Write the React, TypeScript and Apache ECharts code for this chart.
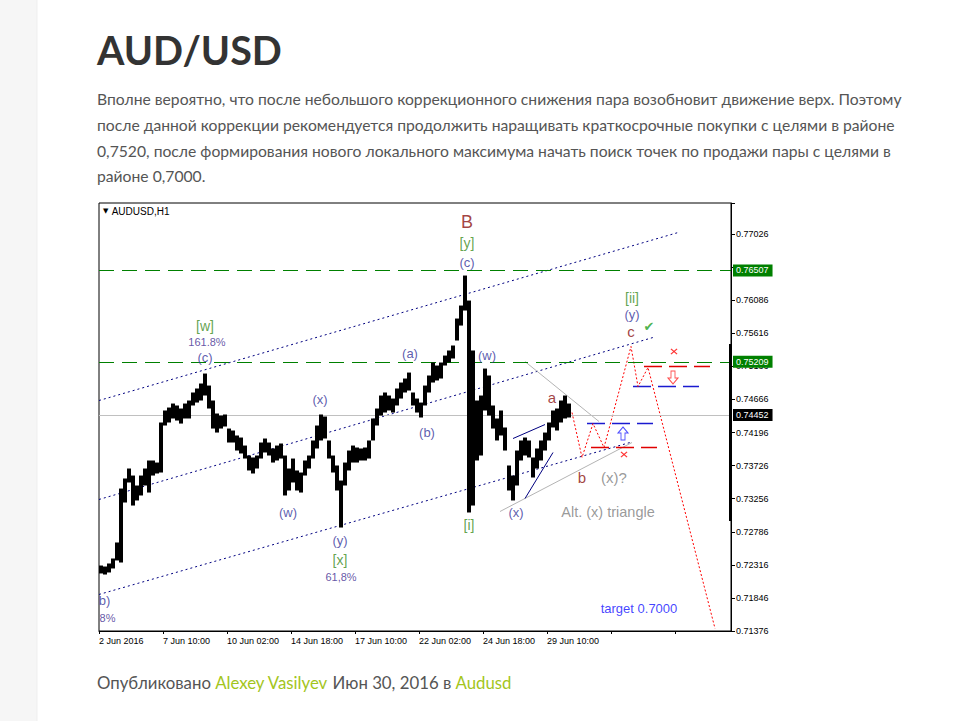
import React, { useEffect, useRef } from 'react';
import * as echarts from 'echarts';

// ---------- data ----------
// the 0.76556 tick is hidden behind the 0.76507 level box in the reference
const PRICE_TICK_LABELS = ['0.71376', '0.71846', '0.72316', '0.72786', '0.73256', '0.73726', '0.74196', '0.74666', '0.75136', '0.75616', '0.76086', '', '0.77026'];
const PRICE_BASE = 0.71376;
const PRICE_STEP = 0.00470833;
const TIME_TICK_LABELS = ['2 Jun 2016', '7 Jun 10:00', '10 Jun 02:00', '14 Jun 18:00', '17 Jun 10:00', '22 Jun 02:00', '24 Jun 18:00', '29 Jun 10:00'];
const HOURS_PER_TICK_LABEL = 64;
const HOURS_PER_SAMPLE = 4;
const TOTAL_HOURS = 632;

// AUDUSD H1, aggregated per 4 hours (high / low)
const sampleHigh = [
  0.72308, 0.72294, 0.72337, 0.72408, 0.72636, 0.73404, 0.73547, 0.73689, 0.73589, 0.73447,
  0.73589, 0.73689, 0.73803, 0.73803, 0.73774, 0.74344, 0.74515, 0.74557, 0.74614, 0.74586,
  0.74543, 0.74614, 0.74657, 0.74771, 0.74828, 0.74899, 0.75041, 0.74870, 0.74657, 0.74472,
  0.74443, 0.74458, 0.74258, 0.74230, 0.74159, 0.74130, 0.74016, 0.73874, 0.73846, 0.73874,
  0.74059, 0.74116, 0.74059, 0.73974, 0.74016, 0.74045, 0.73874, 0.73689, 0.73831, 0.73661,
  0.73632, 0.73803, 0.73874, 0.74088, 0.74301, 0.74458, 0.74429, 0.74088, 0.73874, 0.73732,
  0.73518, 0.73774, 0.73945, 0.74016, 0.73988, 0.73974, 0.73988, 0.74088, 0.74401, 0.74543,
  0.74728, 0.74771, 0.74728, 0.74685, 0.74828, 0.74913, 0.74970, 0.75055, 0.74771, 0.74685,
  0.74628, 0.74870, 0.75013, 0.75198, 0.75155, 0.75198, 0.75297, 0.75369, 0.75440, 0.75824,
  0.76009, 0.76436, 0.76080, 0.75369, 0.74657, 0.74728, 0.75112, 0.75013, 0.74586, 0.74401,
  0.74515, 0.74273, 0.73732, 0.73589, 0.73945, 0.74088, 0.74130, 0.74088, 0.73846, 0.73974,
  0.74088, 0.74201, 0.74344, 0.74515, 0.74543, 0.74657, 0.74728, 0.74614,
];
const sampleLow = [
  0.72195, 0.72180, 0.72209, 0.72266, 0.72380, 0.72351, 0.73205, 0.73490, 0.73162, 0.73234,
  0.73305, 0.73447, 0.73347, 0.73589, 0.73618, 0.73632, 0.74301, 0.74344, 0.74401, 0.74372,
  0.74329, 0.74401, 0.74401, 0.74586, 0.74628, 0.74657, 0.74728, 0.74543, 0.74258, 0.74201,
  0.74258, 0.74287, 0.74059, 0.74059, 0.73945, 0.73903, 0.73831, 0.73661, 0.73618, 0.73689,
  0.73831, 0.73917, 0.73874, 0.73774, 0.73803, 0.73831, 0.73305, 0.73376, 0.73490, 0.73376,
  0.73347, 0.73589, 0.73689, 0.73831, 0.73974, 0.74088, 0.74116, 0.73831, 0.73632, 0.73376,
  0.72849, 0.73447, 0.73661, 0.73774, 0.73774, 0.73803, 0.73803, 0.73831, 0.74088, 0.74301,
  0.74443, 0.74486, 0.74515, 0.74486, 0.74586, 0.74685, 0.74771, 0.74799, 0.74586, 0.74486,
  0.74415, 0.74586, 0.74771, 0.74913, 0.74942, 0.74970, 0.75155, 0.75198, 0.75255, 0.75511,
  0.75724, 0.75938, 0.73063, 0.73162, 0.73803, 0.73874, 0.74515, 0.74443, 0.74258, 0.74088,
  0.74159, 0.73945, 0.73376, 0.73234, 0.73447, 0.73803, 0.73874, 0.73846, 0.73561, 0.73689,
  0.73803, 0.73945, 0.74088, 0.74273, 0.74230, 0.74344, 0.74401, 0.74415,
];

// horizontal levels with price-scale boxes
const levelPrices = [0.76507, 0.75209, 0.74452];
const levelLabels = ['0.76507', '0.75209', '0.74452'];

// trend channel (hour, price)
const channelUpper = [[0, 0.74657], [579, 0.77048]];
const channelMiddle = [[0, 0.73248], [554, 0.75554]];
const channelLower = [[0, 0.71896], [531, 0.74059]];

// triangle / wedge lines
const triUpper = [[426, 0.75212], [500, 0.74358]];
const triLower = [[401, 0.73077], [533, 0.74059]];
const wedgeUpper = [[414, 0.74116], [446, 0.74315]];
const wedgeLower = [[426, 0.73262], [454, 0.73917]];

// forecast path
const forecastPath = [[473, 0.74486], [483, 0.73846], [494, 0.74329], [505, 0.73988], [532, 0.75426], [539, 0.74856], [549, 0.75127], [616, 0.71412]];

// short order levels
const buyLevels = [[[488, 0.74329], [554, 0.74329]], [[534, 0.74856], [600, 0.74856]]];
const stopLevels = [[[492, 0.73988], [558, 0.73988]], [[545, 0.75141], [611, 0.75141]]];

// markers
const upArrows = [[524, 0.74187]];
const downArrows = [[574, 0.74984]];
const crosses = [[575, 0.75354], [525, 0.73888]];

const NAVY = '#333399';
const DRED = '#8b1010';
const GRN = '#3c8c1c';
const PURP = '#3d2b8f';
const GRAY = '#808080';

const waveLabels: { t: string; x: number; p: number; c: string; s: number }[] = [
  { t: 'B', x: 368, p: 0.77205, c: DRED, s: 18 },
  { t: '[y]', x: 368, p: 0.76906, c: GRN, s: 14 },
  { t: '(c)', x: 368, p: 0.76621, c: NAVY, s: 13 },
  { t: '[w]', x: 106, p: 0.75724, c: GRN, s: 14 },
  { t: '161.8%', x: 108, p: 0.75497, c: PURP, s: 11 },
  { t: '(c)', x: 106, p: 0.75269, c: NAVY, s: 13 },
  { t: '(a)', x: 311, p: 0.75326, c: NAVY, s: 13 },
  { t: '(w)', x: 388, p: 0.75297, c: NAVY, s: 13 },
  { t: '(x)', x: 221, p: 0.74671, c: NAVY, s: 13 },
  { t: '(b)', x: 328, p: 0.74201, c: NAVY, s: 13 },
  { t: 'a', x: 453, p: 0.747, c: DRED, s: 15 },
  { t: '[ii]', x: 533, p: 0.76123, c: GRN, s: 14 },
  { t: '(y)', x: 533, p: 0.75881, c: NAVY, s: 13 },
  { t: 'c', x: 532, p: 0.75639, c: DRED, s: 15 },
  { t: '✔', x: 550, p: 0.7571, c: '#22a022', s: 13 },
  { t: 'b', x: 483, p: 0.73561, c: DRED, s: 15 },
  { t: '(x)?', x: 515, p: 0.73561, c: GRAY, s: 15 },
  { t: 'Alt. (x) triangle', x: 509, p: 0.73063, c: GRAY, s: 14.5 },
  { t: '(w)', x: 189, p: 0.73063, c: NAVY, s: 13 },
  { t: '(y)', x: 241, p: 0.72664, c: NAVY, s: 13 },
  { t: '[x]', x: 241, p: 0.7238, c: GRN, s: 14 },
  { t: '61,8%', x: 242, p: 0.72138, c: PURP, s: 11 },
  { t: '[i]', x: 370, p: 0.72878, c: GRN, s: 14 },
  { t: '(x)', x: 417, p: 0.73063, c: NAVY, s: 13 },
  { t: 'b)', x: 5.5, p: 0.7181, c: NAVY, s: 13 },
  { t: '8%', x: 8.5, p: 0.71568, c: PURP, s: 11 },
  { t: 'target 0.7000', x: 540, p: 0.71696, c: '#1010ff', s: 13 },
];

const PARAGRAPH = [
  'Вполне вероятно, что после небольшого коррекционного снижения пара возобновит движение верх. Поэтому',
  'после данной коррекции рекомендуется продолжить наращивать краткосрочные покупки с целями в районе',
  '0,7520, после формирования нового локального максимума начать поиск точек по продажи пары с целями в',
  'районе 0,7000.',
];

const U = (p: number) => (p - PRICE_BASE) / PRICE_STEP;
const FONT = 'Liberation Sans, Arial, sans-serif';

function seg(pts: number[][], lineStyle: any, z = 3) {
  return {
    type: 'line',
    data: pts.map(([x, p]) => [x, U(p)]),
    symbol: 'none',
    silent: true,
    z,
    lineStyle,
  };
}

function buildOption() {
  const bars = sampleHigh.map((h, i) => [i * HOURS_PER_SAMPLE, U(sampleLow[i]), U(h)]);
  const series: any[] = [];

  // horizontal levels with price boxes
  series.push({
    type: 'line',
    data: [],
    silent: true,
    z: 2,
    markLine: {
      silent: true,
      symbol: ['none', 'none'],
      data: levelPrices.map((p, i) => ({
        yAxis: U(p),
        lineStyle: i < 2
          ? { color: '#008000', width: 1, type: [15, 8] }
          : { color: '#c0c0c0', width: 1, type: 'solid' },
        label: {
          show: true,
          position: 'end',
          distance: 2,
          formatter: levelLabels[i],
          color: '#fff',
          backgroundColor: i < 2 ? '#008000' : '#000',
          padding: [2, 4, 1, 3],
          fontSize: 9,
          fontFamily: FONT,
        },
      })),
    },
  });

  const dotted = { color: '#000080', width: 1, type: [2, 3] };
  series.push(seg(channelUpper, dotted));
  series.push(seg(channelMiddle, dotted));
  series.push(seg(channelLower, dotted));
  series.push(seg(triUpper, { color: '#b4b4b4', width: 1 }));
  series.push(seg(triLower, { color: '#b4b4b4', width: 1 }));
  series.push(seg(wedgeUpper, { color: '#000080', width: 1 }));
  series.push(seg(wedgeLower, { color: '#000080', width: 1 }));
  buyLevels.forEach((l) => series.push(seg(l, { color: '#1a1ad0', width: 1.5, type: [18, 7] })));
  stopLevels.forEach((l) => series.push(seg(l, { color: '#e00000', width: 1.5, type: [18, 7] })));
  series.push(seg(forecastPath, { color: '#ff0000', width: 1, type: [2, 2] }));

  // price bars
  series.push({
    type: 'custom',
    z: 5,
    silent: true,
    encode: { x: 0, y: [1, 2] },
    data: bars,
    renderItem: (params: any, api: any) => {
      const x = api.value(0);
      const lo = api.value(1);
      const hi = api.value(2);
      const a = api.coord([x, hi]);
      const b = api.coord([x + HOURS_PER_SAMPLE, lo]);
      return {
        type: 'rect',
        shape: { x: a[0], y: a[1], width: b[0] - a[0], height: Math.max(1.5, b[1] - a[1]) },
        style: { fill: '#000' },
      };
    },
  });

  // markers
  series.push({
    type: 'scatter',
    z: 6,
    silent: true,
    data: [
      ...upArrows.map(([x, p]) => ({
        value: [x, U(p)],
        symbol: 'path://M5,0L10,6L7,6L7,13L3,13L3,6L0,6Z',
        symbolSize: [10, 13],
        itemStyle: { color: '#fff', borderColor: '#2020ff', borderWidth: 1 },
      })),
      ...downArrows.map(([x, p]) => ({
        value: [x, U(p)],
        symbol: 'path://M3,0L7,0L7,7L10,7L5,13L0,7L3,7Z',
        symbolSize: [10, 13],
        itemStyle: { color: '#fff', borderColor: '#ff2020', borderWidth: 1 },
      })),
      ...crosses.map(([x, p]) => ({
        value: [x, U(p)],
        symbol: 'path://M0,1L1,0L4,3L7,0L8,1L5,4L8,7L7,8L4,5L1,8L0,7L3,4Z',
        symbolSize: [7, 6],
        itemStyle: { color: '#ff0000' },
      })),
    ],
  });

  // wave labels
  series.push({
    type: 'scatter',
    z: 7,
    silent: true,
    symbolSize: 1,
    itemStyle: { color: 'rgba(0,0,0,0)' },
    data: waveLabels.map((w) => ({
      value: [w.x, U(w.p)],
      label: {
        show: true,
        position: 'inside',
        formatter: w.t,
        color: w.c,
        fontSize: w.s,
        fontFamily: w.t === '✔' ? 'DejaVu Sans' : FONT,
      },
    })),
  });

  const graphic: any[] = [
    { type: 'rect', shape: { x: 0, y: 0, width: 37, height: 721 }, style: { fill: '#f6f6f6' }, z: -10 },
    { type: 'line', shape: { x1: 37, y1: 0, x2: 37, y2: 721 }, style: { stroke: '#efefef', lineWidth: 1 }, z: -9 },
    {
      type: 'text', z: 10,
      style: { x: 97, y: 49, text: 'AUD/USD', fill: '#333333', fontSize: 39.5, fontWeight: 'bold', fontFamily: 'Lato', textVerticalAlign: 'middle', verticalAlign: 'middle' },
    },
    ...PARAGRAPH.map((t, i) => ({
      type: 'text', z: 10,
      style: { x: 97, y: [99, 125, 151, 176][i], text: t, fill: '#555555', fontSize: 15.7, fontFamily: 'Lato', textVerticalAlign: 'middle', verticalAlign: 'middle' },
    })),
    {
      type: 'text', z: 10,
      style: {
        x: 97, y: 682,
        text: '{a|Опубликовано }{b|Alexey Vasilyev}{a| Июн 30, 2016 в }{b|Audusd}',
        textVerticalAlign: 'middle', verticalAlign: 'middle',
        rich: {
          a: { fill: '#555555', color: '#555555', fontSize: 16.8, fontFamily: 'Lato' },
          b: { fill: '#a3c51c', color: '#a3c51c', fontSize: 16.8, fontFamily: 'Lato' },
        },
      },
    },
    {
      type: 'text', z: 10,
      style: {
        x: 103, y: 211,
        text: '{t|▼} {s|AUDUSD,H1}',
        textVerticalAlign: 'middle', verticalAlign: 'middle',
        rich: {
          t: { fontSize: 7, fill: '#000', color: '#000', fontFamily: 'DejaVu Sans' },
          s: { fontSize: 10, fill: '#000', color: '#000', fontFamily: FONT },
        },
      },
    },
    { type: 'rect', shape: { x: 729, y: 344, width: 3, height: 177 }, style: { fill: '#000' }, z: 100 },
  ];

  return {
    animation: false,
    backgroundColor: '#ffffff',
    textStyle: { fontFamily: FONT },
    grid: { left: 99, right: 229, top: 203, bottom: 90, show: true, borderColor: '#000', borderWidth: 1, backgroundColor: '#fff' },
    xAxis: {
      type: 'value', min: 0, max: TOTAL_HOURS, interval: HOURS_PER_TICK_LABEL,
      axisLine: { show: true, onZero: false, lineStyle: { color: '#000' } },
      axisTick: { show: true, length: 3, lineStyle: { color: '#000' } },
      splitLine: { show: false },
      axisLabel: {
        align: 'left', margin: 5, fontSize: 9, color: '#000', fontFamily: FONT,
        showMaxLabel: false,
        formatter: (v: number) => {
          const k = Math.round(v / HOURS_PER_TICK_LABEL);
          return Math.abs(v - k * HOURS_PER_TICK_LABEL) < 1e-6 && k < TIME_TICK_LABELS.length ? TIME_TICK_LABELS[k] : '';
        },
      },
    },
    yAxis: {
      type: 'value', position: 'right', min: 0, max: 12.94, interval: 1,
      axisLine: { show: true, onZero: false, lineStyle: { color: '#000' } },
      axisTick: { show: true, length: 4, lineStyle: { color: '#000' } },
      splitLine: { show: false },
      axisLabel: {
        margin: 5, fontSize: 9, color: '#000', fontFamily: FONT,
        formatter: (v: number) => {
          const k = Math.round(v);
          return Math.abs(v - k) < 1e-6 && k < PRICE_TICK_LABELS.length ? PRICE_TICK_LABELS[k] : '';
        },
      },
    },
    graphic,
    series,
  };
}

export default function App() {
  const ref = useRef<HTMLDivElement>(null);
  useEffect(() => {
    const chart = echarts.init(ref.current as HTMLDivElement, null, { renderer: 'svg' });
    chart.setOption(buildOption() as any);
    return () => chart.dispose();
  }, []);
  return (
    <div
      ref={ref}
      style={{ position: 'absolute', left: 0, top: 0, width: 960, height: 721, background: '#fff' }}
    />
  );
}
